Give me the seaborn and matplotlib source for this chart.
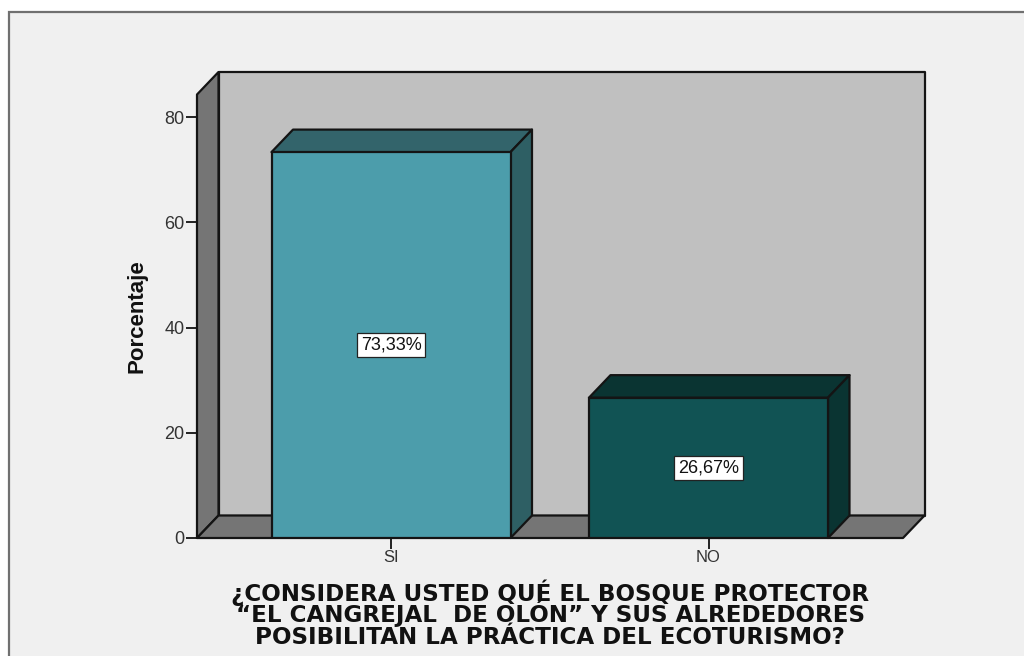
import matplotlib
matplotlib.use("Agg")
import matplotlib.pyplot as plt
from matplotlib.patches import Polygon, Rectangle
import seaborn as sns
import pandas as pd

categories = ["SI", "NO"]
values = [73.33, 26.67]
value_labels = ["73,33%", "26,67%"]
front_colors = ["#4C9DAB", "#115354"]
top_colors = ["#33646B", "#0A3432"]
side_colors = ["#2E5F64", "#0A3432"]
yticks = [0, 20, 40, 60, 80]
x_title_lines = ["¿CONSIDERA USTED QUÉ EL BOSQUE PROTECTOR",
                 "“EL CANGREJAL  DE OLÓN” Y SUS ALREDEDORES",
                 "POSIBILITAN LA PRÁCTICA DEL ECOTURISMO?"]
y_title = "Porcentaje"

W, H = 1024, 656
BG = "#F0F0F0"; BACK = "#C0C0C0"; WALL = "#757575"; INK = "#141414"; TXT = "#333333"

sns.set_theme(style="white", rc={"font.family": ["Liberation Sans", "DejaVu Sans"]})
fig = plt.figure(figsize=(W / 100, H / 100), dpi=100, facecolor="white")
fig.add_artist(Rectangle((9 / W, -0.05), 1.1, 1 - 12 / H + 0.05, transform=fig.transFigure,
                         facecolor=BG, edgecolor="#707070", linewidth=1.6, zorder=-5))

# axes = front plane of the 3-D box
x0, x1, y0, y1 = 197, 903, 538, 94.5
ax = fig.add_axes([x0 / W, 1 - y0 / H, (x1 - x0) / W, (y0 - y1) / H])
ax.patch.set_alpha(0)

df = pd.DataFrame({"cat": categories, "val": values})
sns.barplot(data=df, x="cat", y="val", hue="cat", palette=front_colors, legend=False,
            width=239 / 317.5, edgecolor=INK, linewidth=1.6, ax=ax, zorder=5, saturation=1)

spacing = 317.5
ppu = 421 / 80
ax.set_xlim(-(391 - x0) / spacing, 1 + (x1 - 708.5) / spacing)
ax.set_ylim(0, (y0 - y1) / ppu)
dx, dy = 21.5 / spacing, 22.5 / ppu
xl, xr = ax.get_xlim(); yb, yt = ax.get_ylim()


def poly(pts, fc, z, lw=1.6):
    ax.add_patch(Polygon(pts, closed=True, facecolor=fc, edgecolor=INK, linewidth=lw,
                         clip_on=False, zorder=z, joinstyle="round"))


# back wall, left wall, floor
poly([(xl + dx, yb + dy), (xr + dx, yb + dy), (xr + dx, yt + dy), (xl + dx, yt + dy)], BACK, 1)
poly([(xl, yb), (xl + dx, yb + dy), (xl + dx, yt + dy), (xl, yt)], WALL, 2)
poly([(xl, yb), (xr, yb), (xr + dx, yb + dy), (xl + dx, yb + dy)], WALL, 2)

# bar depth faces and value labels
for bar, tc, sc, lab in zip(ax.patches[:len(values)], top_colors, side_colors, value_labels):
    bx, bw, bh = bar.get_x(), bar.get_width(), bar.get_height()
    poly([(bx, bh), (bx + bw, bh), (bx + bw + dx, bh + dy), (bx + dx, bh + dy)], tc, 4)
    poly([(bx + bw, 0), (bx + bw + dx, dy), (bx + bw + dx, bh + dy), (bx + bw, bh)], sc, 4)
    ax.text(bx + bw / 2, bh / 2, lab, ha="center", va="center", fontsize=13, color="#111111",
            zorder=8, bbox=dict(boxstyle="square,pad=0.2", facecolor="white", edgecolor="#222222", linewidth=0.9))

for s in ax.spines.values():
    s.set_visible(False)
ax.set_yticks(yticks)
ax.tick_params(axis="y", left=True, length=8, width=1.4, color="#222222", labelsize=13,
               labelcolor=TXT, pad=1)
ax.tick_params(axis="x", bottom=True, length=8, width=1.4, color="#222222", labelsize=12,
               labelcolor=TXT, pad=1)
ax.set_xlabel("")
ax.set_ylabel("")
fig.text(137 / W, 1 - 316 / H, y_title, rotation=90, ha="center", va="center",
         fontsize=16, fontweight="bold", color="#111111")
for line, base in zip(x_title_lines, [601, 622, 643.5]):
    fig.text(550 / W, 1 - base / H, line, ha="center", va="baseline", fontsize=16.6,
             fontweight="bold", color="#111111", family=["DejaVu Sans"])

fig.savefig("out.png", dpi=100, facecolor="white")
